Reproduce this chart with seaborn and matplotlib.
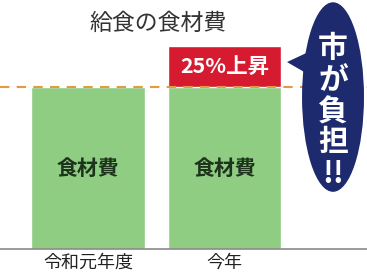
import matplotlib
matplotlib.use("Agg")
import matplotlib.pyplot as plt
import seaborn as sns
import pandas as pd
from matplotlib.patches import Ellipse, Polygon

categories = ["令和元年度", "今年"]
base_cost = [100, 100]
increase = [0, 25]
bar_label = "食材費"
increase_label = "25%上昇"
title = "給食の食材費"
bubble_text = ["市", "が", "負", "担", "!!"]

sns.set_theme(style="white")
plt.rcParams['font.family'] = ['Noto Sans CJK JP', 'DejaVu Sans']

df = pd.DataFrame({"cat": categories,
                   "base": base_cost,
                   "total": [b + i for b, i in zip(base_cost, increase)]})

fig = plt.figure(figsize=(3.67, 2.73), dpi=100)
ax = fig.add_axes([0, 0, 1, 1])

sns.barplot(data=df, x="cat", y="total", color="#d61a30", saturation=1,
            width=0.835, ax=ax, zorder=2)
sns.barplot(data=df, x="cat", y="base", color="#8fcd83", saturation=1,
            width=0.835, ax=ax, zorder=3)

ax.set_xlim(-0.645, 2.044)
ax.set_ylim(-14.8, 153.7)
ax.axis("off")

# baseline
ax.axhline(0, color="#8a8a8a", lw=1.2, zorder=4)
# dashed reference line
ax.axhline(base_cost[0], color="#e39a45", lw=1.5, ls=(0, (4.5, 3.5)), zorder=4)

for i, c in enumerate(categories):
    ax.text(i, base_cost[i] * 0.5, bar_label, ha="center", va="center",
            fontsize=15, fontweight="bold", color="#1e331c", zorder=5)
    ax.text(i, -8.3, c, ha="center", va="center", fontsize=13,
            color="#222222", zorder=5)

ax.text(1, base_cost[1] + increase[1] / 2, increase_label, ha="center",
        va="center", fontsize=15.5, fontweight="bold", color="white", zorder=5)

ax.text(0.51, 139.5, title, ha="center", va="center", fontsize=16.5,
        color="#333333", zorder=5)

# speech bubble
ell = Ellipse((1.795, 93.8), 0.454, 117, facecolor="#1d2a6e",
              edgecolor="none", zorder=6)
ax.add_patch(ell)
tail = Polygon([(1.458, 115.4), (1.615, 121.6), (1.62, 107.5)],
               closed=True, facecolor="#1d2a6e", edgecolor="none", zorder=6)
ax.add_patch(tail)

ys = [124, 104.5, 84, 66, 46]
for ch, y in zip(bubble_text, ys):
    ax.text(1.795, y, ch, ha="center", va="center", fontsize=21.5,
            fontweight="bold", color="white", zorder=7)

fig.savefig("out.png", dpi=100)
